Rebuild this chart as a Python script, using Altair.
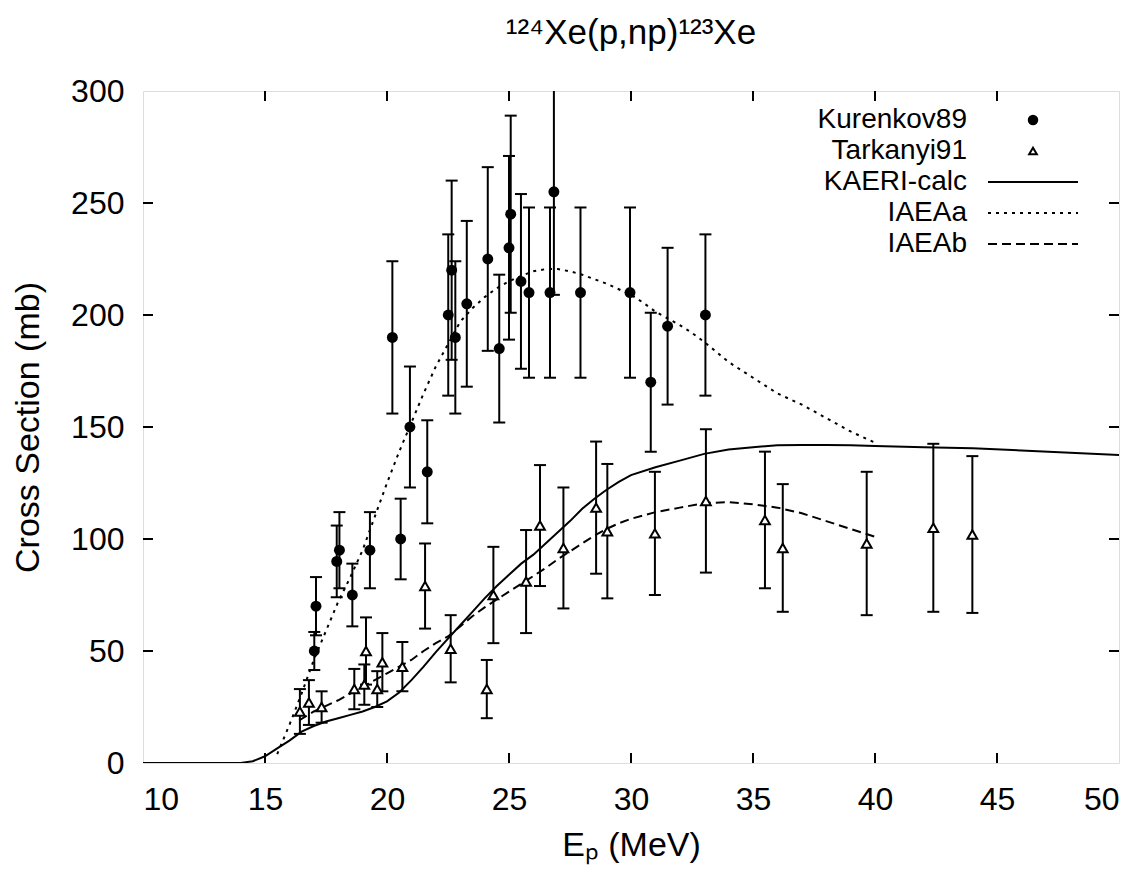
import altair as alt
import pandas as pd

FONT = "Liberation Sans"
W, H = 976, 672

# ---- data ----
x_ticks = [10, 15, 20, 25, 30, 35, 40, 45, 50]
y_ticks = [0, 50, 100, 150, 200, 250, 300]

kur_E = [17.02, 17.09, 17.94, 18.05, 18.58, 19.30, 20.22, 20.56, 20.94, 21.65,
         22.51, 22.65, 22.80, 23.27, 24.13, 24.60, 25.00, 25.07, 25.49, 25.82,
         26.68, 26.84, 27.93, 29.96, 30.81, 31.50, 33.05]
kur_v = [50, 70, 90, 95, 75, 95, 190, 100, 150, 130,
         200, 220, 190, 205, 225, 185, 230, 245, 215, 210,
         210, 255, 210, 210, 170, 195, 200]
kur_err = [8.5, 13, 16, 17, 14, 17, 34, 18, 27, 23,
           36, 40, 34, 37, 41, 33, 41, 44, 39, 38,
           38, 46, 38, 38, 31, 35, 36]

tar_E = [16.43, 16.80, 17.32, 18.66, 19.07, 19.14, 19.60, 19.81, 20.63, 21.56,
         22.61, 24.09, 24.36, 25.70, 26.27, 27.23, 28.57, 29.03, 30.98, 33.07,
         35.49, 36.22, 39.66, 42.39, 43.99]
tar_v = [23, 27, 25, 33, 35, 50, 33, 45, 43, 79,
         51, 33, 75, 81, 106, 96, 114, 103.5, 102.5, 117,
         108.5, 96, 98, 105, 102]
tar_err = [10, 10, 7, 9, 9, 15, 8, 13, 11, 19,
           15, 13, 21.5, 23, 27, 27, 29.5, 30, 27.5, 32,
           30.5, 28.5, 32, 37.5, 35]

kaeri_E = [10, 13, 14, 14.5, 15, 15.5, 16, 16.5, 17, 17.5, 18, 18.5, 19, 19.5, 20,
           20.5, 21, 21.5, 22, 22.5, 23, 23.5, 24, 24.5, 25, 25.5, 26, 26.5, 27,
           27.5, 28, 28.5, 29, 29.5, 30, 31, 32, 33, 34, 35, 36, 37, 38, 39, 40,
           42, 44, 46, 48, 50]
kaeri_v = [0, 0, 0, 0.8, 3, 6.5, 10, 14, 16.5, 18.5, 20, 21.5, 23, 25, 27.5,
           31.5, 37, 43, 49.5, 55.5, 61.5, 67.5, 73.5, 79, 84, 89, 93, 98, 103,
           108, 113.5, 118, 122, 125.5, 128.5, 132, 135, 138, 140, 141, 141.8, 142, 142, 141.8, 141.5,
           141, 140.5, 139.5, 138.5, 137.5]

iaeaa_E = [15.5, 16, 16.5, 17, 17.5, 18, 18.5, 19, 19.5, 20, 20.5, 21, 21.5, 22,
           22.5, 23, 23.5, 24, 24.5, 25, 25.5, 26, 26.5, 27, 27.5, 28, 28.5, 29,
           29.5, 30, 30.5, 31, 31.5, 32, 32.5, 33, 33.5, 34, 35, 36, 37, 38, 39, 40]
iaeaa_v = [4, 17, 31, 46, 59, 72, 83, 95, 110, 125, 139, 152, 165, 177,
           187, 197, 203, 208, 212, 215, 217.5, 219.5, 220.5, 220.5, 219.5, 218, 216, 214,
           211.5, 209, 205.5, 201.5, 198.5, 195.5, 192, 188, 183.5, 179, 172, 165, 160, 154, 148, 143]

iaeab_E = [16.4, 17, 17.5, 18, 18.5, 19, 19.5, 20, 20.5, 21, 21.5, 22, 22.5, 23,
           23.5, 24, 24.5, 25, 25.5, 26, 26.5, 27, 27.5, 28, 28.5, 29, 29.5, 30,
           30.5, 31, 32, 33, 34, 35, 36, 37, 38, 39, 40]
iaeab_v = [19, 23, 25.5, 28, 31, 34, 37, 40, 43, 46, 50, 53.5, 56.5, 61,
           65.5, 69.5, 73, 76.5, 80, 83.5, 87, 91, 94.5, 98, 101.5, 104.5, 107, 109,
           110.5, 112, 114, 116, 116.5, 115.5, 114, 111.5, 108, 104.5, 101]

legend_names = ["Kurenkov89", "Tarkanyi91", "KAERI-calc", "IAEAa", "IAEAb"]

# ---- tables ----
kur = pd.DataFrame({"E": kur_E, "v": kur_v, "err": kur_err})
kur["lo"] = kur["v"] - kur["err"]
kur["hi"] = kur["v"] + kur["err"]
tar = pd.DataFrame({"E": tar_E, "v": tar_v, "err": tar_err})
tar["lo"] = tar["v"] - tar["err"]
tar["hi"] = tar["v"] + tar["err"]
kaeri = pd.DataFrame({"E": kaeri_E, "v": kaeri_v})
iaeaa = pd.DataFrame({"E": iaeaa_E, "v": iaeaa_v})
iaeab = pd.DataFrame({"E": iaeab_E, "v": iaeab_v})
xt = pd.DataFrame({"E": x_ticks[1:-1]})
yt = pd.DataFrame({"v": y_ticks[1:-1]})
one = pd.DataFrame({"a": [0]})

xs = alt.Scale(domain=[10, 50], nice=False, zero=False)
ys = alt.Scale(domain=[0, 300], nice=False)

x_axis = alt.Axis(values=x_ticks, ticks=False, domain=False, grid=False,
                  labelFont=FONT, labelFontSize=32, labelColor="black", labelPadding=21,
                  titleFont=FONT, titleFontSize=34, titleFontWeight="normal", titleColor="black",
                  titleY=92, titleBaseline="alphabetic")
y_axis = alt.Axis(values=y_ticks, ticks=False, domain=False, grid=False,
                  labelFont=FONT, labelFontSize=32, labelColor="black", labelPadding=19,
                  titleFont=FONT, titleFontSize=34, titleFontWeight="normal", titleColor="black",
                  titleX=-115, titleY=H / 2, titleAngle=270, titleBaseline="middle",
                  titleAlign="center")


def X(f):
    return alt.X(f, type="quantitative", scale=xs, axis=x_axis, title="E\u209a (MeV)")


def Y(f):
    return alt.Y(f, type="quantitative", scale=ys, axis=y_axis, title="Cross Section (mb)")


kaeri_line = alt.Chart(kaeri).mark_line(color="black", strokeWidth=2, clip=True).encode(x=X("E"), y=Y("v"))
iaeaa_line = alt.Chart(iaeaa).mark_line(color="black", strokeWidth=2, strokeDash=[3, 5], clip=True).encode(x=X("E"), y=Y("v"))
iaeab_line = alt.Chart(iaeab).mark_line(color="black", strokeWidth=2, strokeDash=[9, 5], clip=True).encode(x=X("E"), y=Y("v"))


def errbars(df):
    bar = alt.Chart(df).mark_rule(color="black", strokeWidth=2, clip=True).encode(
        x=X("E"), y=Y("lo"), y2="hi")
    cap_lo = alt.Chart(df).mark_tick(color="black", orient="horizontal", size=12, thickness=2,
                                     clip=True, opacity=1).encode(x=X("E"), y=Y("lo"))
    cap_hi = alt.Chart(df).mark_tick(color="black", orient="horizontal", size=12, thickness=2,
                                     clip=True, opacity=1).encode(x=X("E"), y=Y("hi"))
    return [bar, cap_lo, cap_hi]


kur_pts = alt.Chart(kur).mark_point(shape="circle", filled=True, color="black", size=120,
                                    opacity=1).encode(x=X("E"), y=Y("v"))
tar_pts = alt.Chart(tar).mark_point(shape="triangle-up", filled=True, fill="white", stroke="black",
                                    strokeWidth=2, size=95, opacity=1).encode(x=X("E"), y=Y("v"))

# inward ticks on all four sides
tick_b = alt.Chart(xt).mark_rule(color="black", strokeWidth=2).encode(x=X("E"), y=alt.value(H), y2=alt.value(H - 10))
tick_t = alt.Chart(xt).mark_rule(color="black", strokeWidth=2).encode(x=X("E"), y=alt.value(0), y2=alt.value(10))
tick_l = alt.Chart(yt).mark_rule(color="black", strokeWidth=2).encode(y=Y("v"), x=alt.value(0), x2=alt.value(10))
tick_r = alt.Chart(yt).mark_rule(color="black", strokeWidth=2).encode(y=Y("v"), x=alt.value(W), x2=alt.value(W - 10))

# legend (gnuplot style: text right-aligned, sample to the right)
leg = []
row_y = [29, 60, 91, 122, 153]
for name, yy in zip(legend_names, row_y):
    leg.append(alt.Chart(one).mark_text(align="right", baseline="middle", font=FONT, fontSize=28,
                                        color="black").encode(x=alt.value(824), y=alt.value(yy),
                                                              text=alt.value(name)))
leg.append(alt.Chart(one).mark_point(shape="circle", filled=True, color="black", size=110, opacity=1)
           .encode(x=alt.value(890), y=alt.value(row_y[0])))
leg.append(alt.Chart(one).mark_point(shape="triangle-up", filled=True, fill="white", stroke="black",
                                     strokeWidth=2, size=60, opacity=1)
           .encode(x=alt.value(890), y=alt.value(row_y[1])))
for yy, dash in zip(row_y[2:], [[1, 0], [3, 5], [9, 5]]):
    leg.append(alt.Chart(one).mark_rule(color="black", strokeWidth=2, strokeDash=dash)
               .encode(x=alt.value(845), x2=alt.value(935), y=alt.value(yy)))

layers = [kaeri_line, iaeaa_line, iaeab_line] + errbars(kur) + errbars(tar) + [kur_pts, tar_pts,
          tick_b, tick_t, tick_l, tick_r] + leg

chart = alt.layer(*layers).properties(
    width=W, height=H,
    title=alt.TitleParams("\u00b9\u00b2\u2074Xe(p,np)\u00b9\u00b2\u00b3Xe", font=FONT, fontSize=35,
                          fontWeight="normal", color="black", anchor="middle", offset=24),
    padding={"left": 143, "top": 91, "right": 29, "bottom": 107},
    autosize=alt.AutoSizeParams(type="none"),
).configure_view(stroke="black", strokeWidth=2.5).configure(background="white")

chart.save("out.html", embed_options={"renderer": "svg", "actions": False})
